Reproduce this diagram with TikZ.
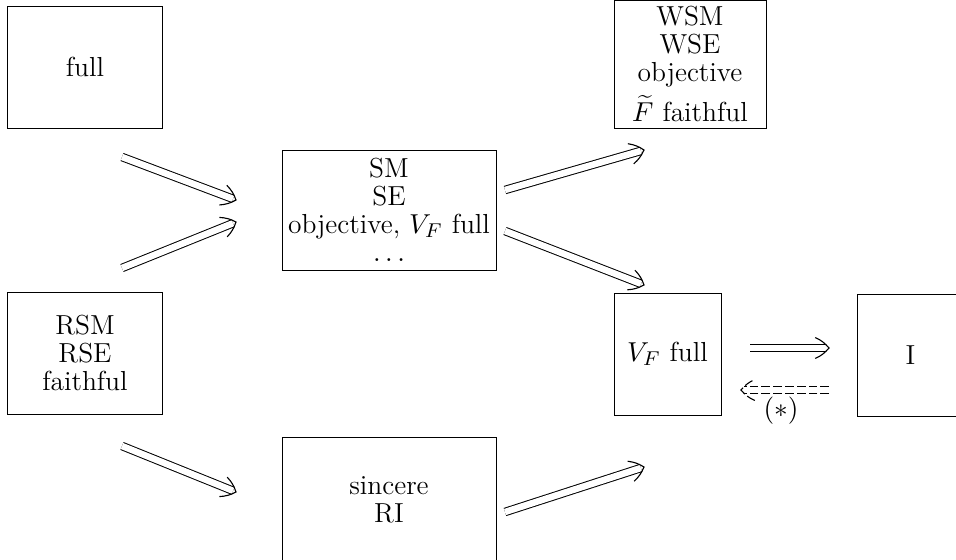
\documentclass[tikz,border=0pt]{standalone}
\usetikzlibrary{calc}
\newcommand\dblarrow[3][]{%
  \draw[dblline,#1] (#2) -- (#3);
  \path ($(#3)!5.5pt!(#2)$) coordinate (hb);
  \draw[headline,#1] ($(hb)!4.2pt!90:(#3)$) to[bend left=12] (#3) to[bend left=12] ($(hb)!4.2pt!-90:(#3)$);
}
\begin{document}
\begin{tikzpicture}[x=0.4pt,y=-0.4pt,
  every node/.style={font=\fontsize{11}{11.2}\selectfont},
  box/.style={draw,line width=0.4pt,inner sep=0pt,align=center},
  dblline/.style={double,double distance=2.6pt,line width=0.4pt,shorten >=1.3pt},
  headline/.style={line width=0.45pt},
  dsh/.style={dash pattern=on 3.5pt off 1.2pt}]
\useasboundingbox (0,0) rectangle (956,560);
\node[box,minimum width=154*0.4pt,minimum height=122*0.4pt] (full) at (85,67) {full};
\node[box,minimum width=152*0.4pt,minimum height=128*0.4pt] (wsm) at (690,64) {WSM\\WSE\\objective\\[2pt]$\widetilde{F}$ faithful};
\node[box,minimum width=214*0.4pt,minimum height=120*0.4pt] (sm) at (389,210) {SM\\SE\\objective, $V_F$ full\\$\ldots$};
\node[box,minimum width=154*0.4pt,minimum height=122*0.4pt] (rsm) at (85,353) {RSM\\RSE\\faithful};
\node[box,minimum width=107*0.4pt,minimum height=122*0.4pt] (vf) at (667.5,354) {$V_F$ full};
\node[box,minimum width=107*0.4pt,minimum height=122*0.4pt] (i) at (910.5,355) {I};
\node[box,minimum width=214*0.4pt,minimum height=126*0.4pt] (sin) at (389,500) {sincere\\RI};
\coordinate (a1s) at (122,157); \coordinate (a1e) at (236,200);
\coordinate (a2s) at (122,268); \coordinate (a2e) at (236,222);
\coordinate (a3s) at (505,190); \coordinate (a3e) at (644,150);
\coordinate (a4s) at (505,231); \coordinate (a4e) at (644,285);
\coordinate (a5s) at (122,446); \coordinate (a5e) at (236,492);
\coordinate (a6s) at (505,512); \coordinate (a6e) at (644,467);
\coordinate (a7s) at (750,348); \coordinate (a7e) at (829,348);
\coordinate (a8s) at (829,390); \coordinate (a8e) at (741,390);
\dblarrow{a1s}{a1e}
\dblarrow{a2s}{a2e}
\dblarrow{a3s}{a3e}
\dblarrow{a4s}{a4e}
\dblarrow{a5s}{a5e}
\dblarrow{a6s}{a6e}
\dblarrow{a7s}{a7e}
\dblarrow[dsh]{a8s}{a8e}
\node (star) at (781,411) {$(*)$};
\end{tikzpicture}
\end{document}
